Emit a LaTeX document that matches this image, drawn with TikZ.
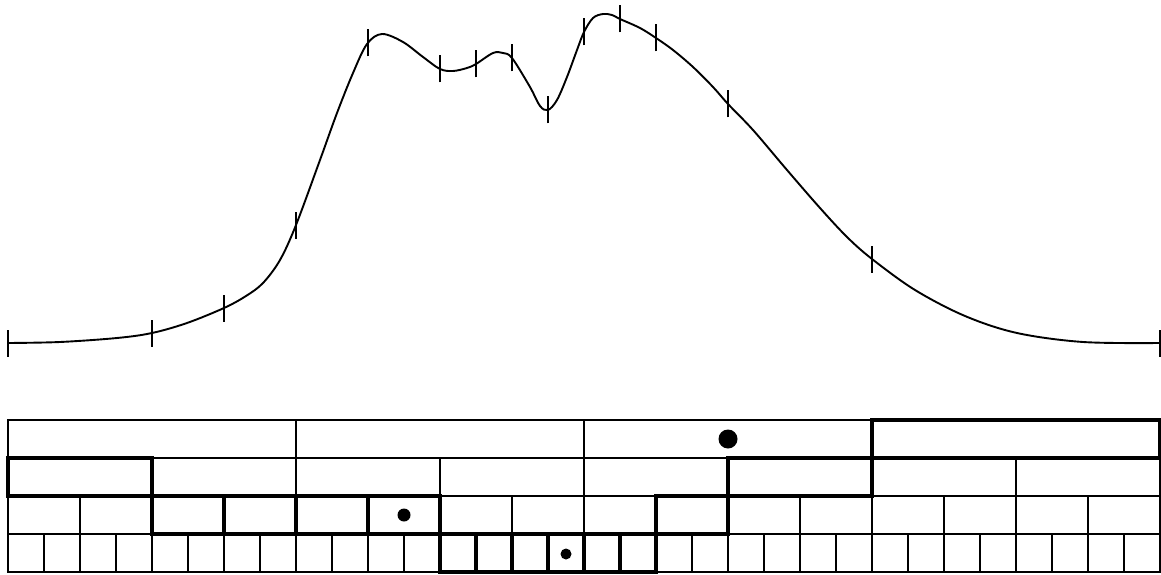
\documentclass[tikz,border=0pt]{standalone}
\begin{document}
\begin{tikzpicture}[x=1pt,y=-1pt,
  thincell/.style={line width=1.7pt},
  thickcell/.style={line width=3.6pt},
  curveline/.style={line width=1.9pt},
  tickmark/.style={line width=2.4pt},
  dotmark/.style={fill=black}]
\useasboundingbox (0,0) rectangle (1161,575);
% curve
\draw[curveline] plot[smooth, tension=0.55] coordinates {
 (8,343) (60,342) (117,338) (152,333) (187,323) (224,308) (246,296) (263,283) (280,260) (296,225)
 (320,160) (337,113) (353,73) (367,44) (382,34) (403,42) (423,57) (440,69) (453,71)
 (467,68) (476,64) (493,53) (503,53) (512,58) (530,87) (540,106) (548,110) (557,100)
 (567,77) (577,50) (584,32) (593,18) (603,14) (612,15) (620,19) (640,28) (656,38)
 (673,50) (693,67) (713,87) (728,104) (753,130) (787,170) (820,208) (847,237) (872,259)
 (915,290) (965,316) (1017,333) (1083,342) (1160,343)};
% ticks
\foreach \x/\y [count=\k] in {8/343,152/333,224/308,296/225,368/43,440/69,476/64,512/58,548/110,584/32,620/19,656/38,728/104,872/259,1160/343} {
  \coordinate (t\k) at (\x,\y);
  \draw[tickmark] ([yshift=-13.5pt]t\k) -- ([yshift=13.5pt]t\k);
}
% grid
\foreach \r/\w/\n in {0/288/4,1/144/8,2/72/16,3/36/32} {
  \foreach \i in {1,...,\n} {
    \draw[thincell] ({8+(\i-1)*\w},{420+38*\r}) rectangle ({8+\i*\w},{458+38*\r});
  }
}
% thick cells (adaptive partition)
\foreach \a/\b/\r in {872/1160/0, 8/152/1, 728/872/1, 152/224/2, 224/296/2, 296/368/2, 368/440/2, 656/728/2,
  440/476/3, 476/512/3, 512/548/3, 548/584/3, 584/620/3, 620/656/3} {
  \draw[thickcell] (\a,{420+38*\r}) rectangle (\b,{458+38*\r});
}
% dots
\fill[dotmark] (728,439) circle (9.5);
\fill[dotmark] (404,515) circle (6.5);
\fill[dotmark] (566,554) circle (5.5);
\end{tikzpicture}
\end{document}
